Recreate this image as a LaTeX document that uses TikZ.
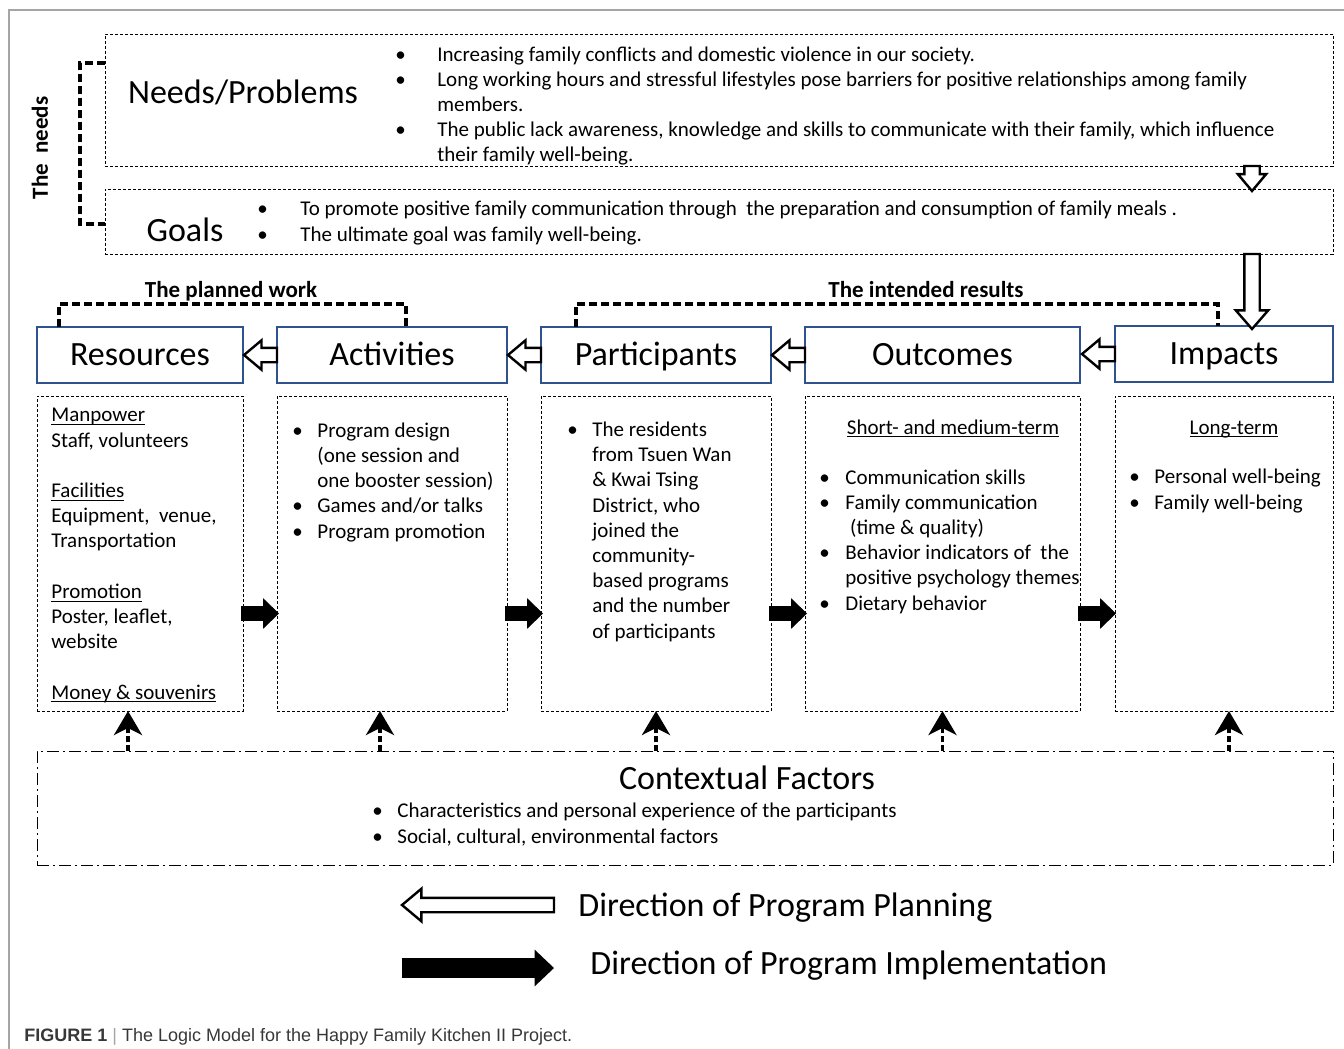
\documentclass[tikz,border=0pt]{standalone}
\usepackage{fontspec}
\setmainfont{Carlito}
\newfontfamily\capfont{Liberation Sans}
\usetikzlibrary{shapes.arrows,arrows.meta}
\definecolor{hdrblue}{RGB}{47,82,143}
\definecolor{framegray}{RGB}{165,165,165}
\definecolor{capgray}{RGB}{55,55,55}
\newcommand{\bul}[1][12.5pt]{\makebox[#1][l]{\textbullet}}
\newcommand{\ind}[1][12.5pt]{\hspace*{#1}}
\newcommand{\uline}[1]{\underline{\smash{#1}}}
\tikzset{
  hdrbox/.style={draw=hdrblue, line width=0.7pt, inner sep=0pt, outer sep=0pt, minimum height=28pt,
    font=\fontsize{17}{20}\selectfont, text height=10.9pt, text depth=0pt},
  dotbox/.style={draw, line width=0.5pt, dash pattern=on 1.5pt off 1pt, inner sep=0pt, outer sep=0pt},
  ctxbox/.style={draw, line width=0.5pt, dash pattern=on 6pt off 2pt on 1pt off 2pt, inner sep=0pt, outer sep=0pt},
  body/.style={font=\fontsize{10.5}{12.6}\selectfont, align=left, inner sep=0pt},
  bigtxt/.style={font=\fontsize{17}{20}\selectfont, inner sep=0pt},
  lbl/.style={font=\bfseries\fontsize{11.5}{14}\selectfont, inner sep=0pt},
  bracket/.style={line width=1.6pt, dash pattern=on 4pt off 2pt},
  ctxarrow/.style={line width=1.8pt, dash pattern=on 3pt off 1.5pt,
    -{Stealth[length=12pt, width=14pt, inset=3.5pt]}},
  planarrow/.style={single arrow, draw, fill=white, line width=1.2pt, inner xsep=0pt, outer sep=0pt},
  implarrow/.style={single arrow, fill=black, inner xsep=0pt, outer sep=0pt}
}
\begin{document}
\begin{tikzpicture}[x=0.5pt, y=-0.5pt]
\useasboundingbox (0,0) rectangle (1344,1049);
\draw[framegray, line width=0.6pt] (9,1049) -- (9,10) -- (1344,10);

% needs and goals (multi-line texts sit on their last baseline)
\node[dotbox, minimum width=614pt, minimum height=66pt] (needs) at (719,100) {};
\node[dotbox, minimum width=614pt, minimum height=32.5pt] (goals) at (719,221.5) {};
\node[bigtxt, anchor=base] (needsttl) at (243,103) {Needs/Problems};
\node[bigtxt, anchor=base] (goalsttl) at (185,241) {Goals};
\node[body, anchor=base west, font=\fontsize{10.5}{12.5}\selectfont] (needstxt) at (395,161) {\bul[21pt]Increasing family conflicts and domestic violence in our society.\\
  \bul[21pt]Long working hours and stressful lifestyles pose barriers for positive relationships among family\\
  \ind[21pt]members.\\
  \bul[21pt]The public lack awareness, knowledge and skills to communicate with their family, which influence\\
  \ind[21pt]their family well-being.};
\node[body, anchor=base west] (goalstxt) at (257,241) {\bul[21.5pt]To promote positive family communication through~ the preparation and consumption of family meals .\\
  \bul[21.5pt]The ultimate goal was family well-being.};
\node[lbl, rotate=90] (needslbl) at (40,148) {The~ needs};
\draw[bracket] (needs.west |- 0,63) -- (80,63) -- (80,224) -- (goals.west |- 0,224);
\coordinate (dn) at (1252,0);
\path (needs.south -| dn) -- node[planarrow, pos=0, anchor=tail, rotate=-90, minimum height=12.5pt, inner ysep=3.25pt,
  single arrow head extend=3.25pt, single arrow tip angle=80] {} (goals.north -| dn);

% header row
\node[hdrbox, minimum width=103pt] (res) at (140,355) {Resources};
\node[hdrbox, minimum width=115pt] (act) at (392,355) {Activities};
\node[hdrbox, minimum width=115pt] (par) at (656,355) {Participants};
\node[hdrbox, minimum width=137.5pt] (out) at (942.5,355) {Outcomes};
\node[hdrbox, minimum width=109pt] (imp) at (1224,354) {Impacts};
\foreach \a/\b in {act/res, par/act, out/par, imp/out}
  \path (\a.west) -- node[planarrow, pos=0, anchor=tail, rotate=180, minimum height=16.5pt, inner ysep=3pt,
    single arrow head extend=3.75pt, single arrow tip angle=80] {} (\b.east);
\path (goals.south -| dn) -- node[planarrow, pos=0, anchor=tail, rotate=-90, minimum height=37.5pt, inner ysep=3.25pt,
  single arrow head extend=4.25pt, single arrow tip angle=82] {} (imp.north -| dn);

\node[lbl, anchor=base] (planlbl) at (231,297) {The planned work};
\node[lbl, anchor=base] (resultlbl) at (926,297) {The intended results};
\draw[bracket] ([xshift=-40.5pt]res.north) -- ++(0,-23) -| ([xshift=7pt]act.north);
\draw[bracket] ([xshift=-40pt]par.north) -- ++(0,-23) -| ([xshift=-3pt]imp.north);

% content boxes
\node[dotbox, minimum width=103pt, minimum height=157.5pt] (resc) at (140,553.5) {};
\node[dotbox, minimum width=115pt, minimum height=157.5pt] (actc) at (392,553.5) {};
\node[dotbox, minimum width=115pt, minimum height=157.5pt] (parc) at (656,553.5) {};
\node[dotbox, minimum width=137.5pt, minimum height=157.5pt] (outc) at (942.5,553.5) {};
\node[dotbox, minimum width=109pt, minimum height=157.5pt] (impc) at (1224,553.5) {};
\foreach \a/\b in {resc/actc, actc/parc, parc/outc, outc/impc}
  \path ([yshift=-30pt,xshift=-1pt]\a.east) -- node[implarrow, pos=0, anchor=tail, minimum height=19pt, inner ysep=3.5pt,
    single arrow head extend=4pt, single arrow tip angle=88] {} ([yshift=-30pt]\b.west);

\node[body, anchor=base west] (restxt) at (51,699) {\uline{Manpower}\\Staff, volunteers\\[12.6pt]
  \uline{Facilities}\\Equipment,~ venue,\\Transportation\\[12.6pt]
  \uline{Promotion}\\Poster, leaflet,\\website\\[12.6pt]
  \uline{Money \& souvenirs}};
\node[body, anchor=base west] (acttxt) at (292,538) {\bul Program design\\ \ind(one session and\\
  \ind one booster session)\\ \bul Games and/or talks\\ \bul Program promotion};
\node[body, anchor=base west] (partxt) at (567,638) {\bul The residents\\ \ind from Tsuen Wan\\
  \ind\& Kwai Tsing\\ \ind District, who\\ \ind joined the\\ \ind community-\\
  \ind based programs\\ \ind and the number\\ \ind of participants};
\node[body, anchor=base] (outsub) at (953,434) {\uline{Short- and medium-term}};
\node[body, anchor=base west] (outtxt) at (819,610) {\bul[13pt]Communication skills\\
  \bul[13pt]Family communication\\ \ind[13pt]~(time \& quality)\\
  \bul[13pt]Behavior indicators of~ the\\ \ind[13pt]positive psychology themes\\
  \bul[13pt]Dietary behavior};
\node[body, anchor=base] (impsub) at (1234,434) {\uline{Long-term}};
\node[body, anchor=base west] (imptxt) at (1129,509) {\bul Personal well-being\\ \bul Family well-being};

% contextual factors
\node[ctxbox, minimum width=648pt, minimum height=57pt] (ctx) at (685,808) {};
\node[bigtxt, anchor=base] (ctxttl) at (747,789) {Contextual Factors};
\node[body, anchor=base west] (ctxtxt) at (372,843) {\bul Characteristics and personal experience of the participants\\
  \bul Social, cultural, environmental factors};
\foreach \b/\s in {resc/-6pt, actc/-6pt, parc/0pt, outc/0pt, impc/2.5pt}
  \draw[ctxarrow] ([xshift=\s]\b.south |- ctx.north) -- ([xshift=\s]\b.south);

% legend
\node[planarrow, rotate=180, anchor=tail, minimum height=76pt, inner ysep=3pt, single arrow head extend=4.5pt,
  single arrow tip angle=80] (legplan) at (554,905) {};
\node[bigtxt, anchor=base west] (legplantxt) at (578,916) {Direction of Program Planning};
\node[implarrow, anchor=tail, minimum height=76pt, inner ysep=4.75pt, single arrow head extend=4.25pt,
  single arrow tip angle=87] (legimpl) at (402,968) {};
\node[bigtxt, anchor=base west] (legimpltxt) at (590,974) {Direction of Program Implementation};

\node[anchor=base west, inner sep=0pt, text=capgray, font=\capfont\fontsize{9}{11}\selectfont] (caption)
  at (24,1041) {\textbf{FIGURE 1} {\color{framegray}|} The Logic Model for the Happy Family Kitchen II Project.};
\end{tikzpicture}
\end{document}
